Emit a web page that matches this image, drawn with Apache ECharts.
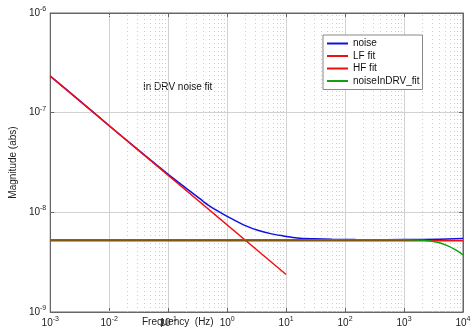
<!DOCTYPE html>
<html>
<head>
<meta charset="utf-8">
<title>In DRV noise fit</title>
<script src="https://cdn.jsdelivr.net/npm/echarts@6/dist/echarts.min.js"></script>
<style>
  html, body { margin: 0; background: #fff; }
  #chart { width: 476px; height: 329px; }
</style>
</head>
<body>
<div id="chart"></div>
<script>
// values (log-log)
var noiseFreq = [0.001, 0.003, 0.01, 0.03, 0.1, 0.2, 0.344, 0.5, 0.84, 1.3, 2.04, 3.3, 5.65, 9, 15.4, 30, 60, 150, 500, 2000, 10000];
var noiseVal  = [2.33e-7, 1.35e-7, 7.4e-8, 4.3e-8, 2.4e-8, 1.75e-8, 1.37e-8, 1.16e-8, 9.66e-9, 8.4e-9, 7.36e-9, 6.6e-9, 6.08e-9, 5.8e-9, 5.53e-9, 5.42e-9, 5.36e-9, 5.33e-9, 5.32e-9, 5.34e-9, 5.45e-9];
var lfFreq = [0.001, 10];
var lfVal  = [2.33e-7, 2.38e-9];
var hfFreq = [0.001, 10000];
var hfVal  = [5.2e-9, 5.2e-9];
var drvFreq = [0.001, 1000, 2200, 3670, 5400, 7500, 10000];
var drvVal  = [5.32e-9, 5.32e-9, 5.24e-9, 5.0e-9, 4.63e-9, 4.2e-9, 3.75e-9];
var xTickExp = [-3, -2, -1, 0, 1, 2, 3, 4];
var yTickExp = [-9, -8, -7, -6];

var font = 'Liberation Sans, Arial, sans-serif';

function pairs(xs, ys) {
  var out = [];
  for (var i = 0; i < xs.length; i++) out.push([xs[i], ys[i]]);
  return out;
}
function expLabel(v) {
  return '{b|10}{s|' + Math.round(Math.log10(v)) + '}';
}
var richLbl = {
  b: { fontSize: 10, fontFamily: font, color: '#222' },
  s: { fontSize: 7, fontFamily: font, color: '#222', padding: [0, 0, 8, 0] }
};

// minor grid positions (2..9 in every decade)
var minorLines = [];
for (var d = xTickExp[0]; d < xTickExp[xTickExp.length - 1]; d++) {
  for (var k = 2; k <= 9; k++) minorLines.push({ xAxis: k * Math.pow(10, d) });
}
for (var d2 = yTickExp[0]; d2 < yTickExp[yTickExp.length - 1]; d2++) {
  for (var k2 = 2; k2 <= 9; k2++) minorLines.push({ yAxis: k2 * Math.pow(10, d2) });
}

var chart = echarts.init(document.getElementById('chart'));
var option = {
  animation: false,
  textStyle: { fontFamily: font },
  grid: { left: 40, right: 13, top: 13, bottom: 17, show: true, borderColor: '#666', borderWidth: 1 },
  legend: {
    orient: 'vertical', left: 323, top: 35, z: 10,
    padding: [3, 3, 3, 4], itemGap: 1.5,
    itemWidth: 21, itemHeight: 2,
    backgroundColor: '#fff', borderColor: '#888', borderWidth: 1,
    itemStyle: { borderWidth: 0 },
    textStyle: { fontSize: 10, lineHeight: 11, color: '#111', fontFamily: font },
    data: [
      { name: 'noise', icon: 'rect' },
      { name: 'LF fit', icon: 'rect' },
      { name: 'HF fit', icon: 'rect' },
      { name: 'noiseInDRV_fit', icon: 'rect' }
    ]
  },
  xAxis: [{
    type: 'log', logBase: 10,
    min: Math.pow(10, xTickExp[0]), max: Math.pow(10, xTickExp[xTickExp.length - 1]),
    interval: 1,
    axisLine: { lineStyle: { color: '#666' } },
    axisTick: { inside: true, length: 4, lineStyle: { color: '#666' } },
    axisLabel: { formatter: expLabel, rich: richLbl, margin: 4, showMaxLabel: true, showMinLabel: true },
    splitLine: { show: true, lineStyle: { color: '#d2d2d2', width: 1 } }
  }, {
    type: 'log', logBase: 10, position: 'top',
    min: Math.pow(10, xTickExp[0]), max: Math.pow(10, xTickExp[xTickExp.length - 1]),
    interval: 1,
    axisLine: { lineStyle: { color: '#666' } },
    axisTick: { inside: true, length: 4, lineStyle: { color: '#666' } },
    axisLabel: { show: false }, splitLine: { show: false }
  }],
  yAxis: [{
    type: 'log', logBase: 10,
    min: Math.pow(10, yTickExp[0]), max: Math.pow(10, yTickExp[yTickExp.length - 1]),
    interval: 1,
    name: 'Magnitude (abs)', nameLocation: 'middle', nameGap: 27,
    nameTextStyle: { fontSize: 10, color: '#222', fontFamily: font },
    axisLine: { show: true, lineStyle: { color: '#666' } },
    axisTick: { show: true, inside: true, length: 4, lineStyle: { color: '#666' } },
    axisLabel: { formatter: expLabel, rich: richLbl, margin: 4 },
    splitLine: { show: true, lineStyle: { color: '#d2d2d2', width: 1 } }
  }, {
    type: 'log', logBase: 10, position: 'right',
    min: Math.pow(10, yTickExp[0]), max: Math.pow(10, yTickExp[yTickExp.length - 1]),
    interval: 1,
    axisLine: { show: true, lineStyle: { color: '#666' } },
    axisTick: { show: true, inside: true, length: 4, lineStyle: { color: '#666' } },
    axisLabel: { show: false }, splitLine: { show: false }
  }],
  graphic: [
    { type: 'text', left: 143, top: 82, style: { text: 'In DRV noise fit', fontSize: 10, fill: '#111', fontFamily: font } },
    { type: 'text', left: 142, top: 317, style: { text: 'Frequency  (Hz)', fontSize: 10, fill: '#222', fontFamily: font } }
  ],
  series: [
    {
      name: 'minor-grid', type: 'line', data: [], silent: true, z: 1,
      markLine: {
        silent: true, symbol: 'none', label: { show: false }, animation: false, z: 1,
        lineStyle: { type: [1, 3], color: '#cdcdcd', width: 1 },
        data: minorLines
      }
    },
    { name: 'noise', type: 'line', symbol: 'none', smooth: 0.3, data: pairs(noiseFreq, noiseVal),
      lineStyle: { color: '#1010e0', width: 1.5 }, itemStyle: { color: '#1010e0' } },
    { name: 'LF fit', type: 'line', symbol: 'none', data: pairs(lfFreq, lfVal),
      lineStyle: { color: '#f01010', width: 1.5 }, itemStyle: { color: '#f01010' } },
    { name: 'HF fit', type: 'line', symbol: 'none', data: pairs(hfFreq, hfVal),
      lineStyle: { color: '#f01010', width: 1.5 }, itemStyle: { color: '#f01010' } },
    { name: 'noiseInDRV_fit', type: 'line', symbol: 'none', smooth: 0.3, data: pairs(drvFreq, drvVal),
      lineStyle: { color: '#10a010', width: 1.5 }, itemStyle: { color: '#10a010' } }
  ]
};
chart.setOption(option);
</script>
</body>
</html>
